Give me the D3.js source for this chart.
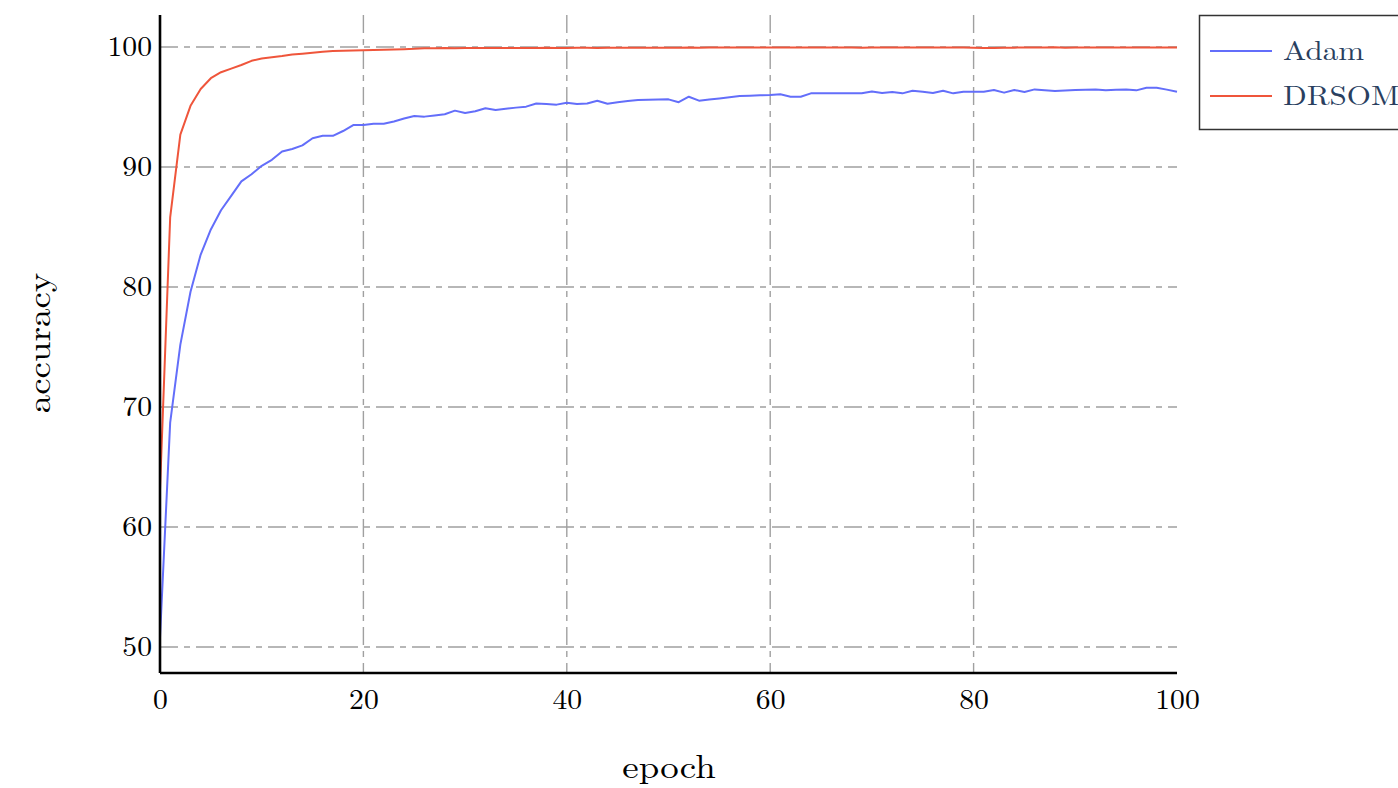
<!DOCTYPE html>
<html>
<head>
<meta charset="utf-8">
<script src="https://cdn.jsdelivr.net/npm/d3@7"></script>
<style>
  html, body { margin: 0; padding: 0; background: #fff; }
  svg { display: block; }
</style>
</head>
<body>
<svg id="chart" width="1398" height="788"></svg>
<script>
const epochs = d3.range(0, 101);
const adam = [50.8, 68.7, 75.2, 79.6, 82.7, 84.8, 86.4, 87.6, 88.8, 89.4,
  90.1, 90.6, 91.3, 91.5, 91.8, 92.4, 92.6, 92.6, 93.0, 93.5,
  93.5, 93.6, 93.6, 93.8, 94.05, 94.25, 94.2, 94.3, 94.4, 94.7,
  94.5, 94.65, 94.9, 94.75, 94.85, 94.95, 95.03, 95.3, 95.25, 95.2,
  95.36, 95.25, 95.3, 95.53, 95.28, 95.4, 95.5, 95.58, 95.6, 95.62,
  95.64, 95.4, 95.86, 95.53, 95.62, 95.72, 95.82, 95.92, 95.95, 95.98,
  96.0, 96.06, 95.86, 95.86, 96.14, 96.14, 96.14, 96.14, 96.14, 96.14,
  96.3, 96.17, 96.25, 96.14, 96.36, 96.28, 96.17, 96.36, 96.14, 96.28,
  96.28, 96.28, 96.42, 96.2, 96.42, 96.25, 96.47, 96.4, 96.33, 96.38,
  96.42, 96.45, 96.47, 96.39, 96.43, 96.47, 96.39, 96.61, 96.61, 96.45,
  96.28];
const drsom = [63.1, 85.8, 92.7, 95.1, 96.5, 97.4, 97.9, 98.2, 98.5, 98.85,
  99.05, 99.15, 99.25, 99.37, 99.45, 99.53, 99.6, 99.67, 99.7, 99.72,
  99.73, 99.75, 99.78, 99.8, 99.82, 99.85, 99.9, 99.9, 99.91, 99.9,
  99.92, 99.91, 99.92, 99.92, 99.93, 99.93, 99.92, 99.93, 99.94, 99.93,
  99.93, 99.94, 99.94, 99.93, 99.94, 99.95, 99.94, 99.95, 99.95, 99.95,
  99.95, 99.95, 99.96, 99.95, 99.96, 99.96, 99.96, 99.96, 99.96, 99.96,
  99.96, 99.96, 99.97, 99.96, 99.97, 99.97, 99.97, 99.97, 99.97, 99.95,
  99.96, 99.96, 99.96, 99.96, 99.96, 99.96, 99.96, 99.96, 99.96, 99.96,
  99.95, 99.92, 99.92, 99.94, 99.95, 99.96, 99.97, 99.97, 99.98, 99.95,
  99.96, 99.96, 99.96, 99.96, 99.97, 99.97, 99.97, 99.97, 99.97, 99.97,
  99.97];
const seriesNames = ["Adam", "DRSOM"];
const seriesColors = ["#636efa", "#ef553b"];
const xTicks = [0, 20, 40, 60, 80, 100];
const xGrid = [20, 40, 60, 80];
const yTicks = [50, 60, 70, 80, 90, 100];
const xDomain = [0, 100];
const yDomain = [47.83, 102.67];
const xTitle = "epoch";
const yTitle = "accuracy";

const svg = d3.select("#chart");
const L = 160, R = 1177, T = 15, B = 673;
const x = d3.scaleLinear().domain(xDomain).range([L, R]);
const y = d3.scaleLinear().domain(yDomain).range([B, T]);

const font = "'Latin Modern Roman', 'Liberation Serif', 'Times New Roman', serif";
const gridStyle = g => g.attr("stroke", "#a0a0a0").attr("stroke-width", 1.4).attr("stroke-dasharray", "18,6,6,6");

// grid
svg.append("g").selectAll("line").data(yTicks).join("line")
  .attr("x1", L).attr("x2", R).attr("y1", d => y(d)).attr("y2", d => y(d))
  .call(gridStyle);
svg.append("g").selectAll("line").data(xGrid).join("line")
  .attr("x1", d => x(d)).attr("x2", d => x(d)).attr("y1", T).attr("y2", B)
  .call(gridStyle);

// lines
const series = [adam, drsom];
const line = d3.line().x((d, i) => x(epochs[i])).y(d => y(d));
series.forEach((s, k) => {
  svg.append("path").datum(s)
    .attr("fill", "none").attr("stroke", seriesColors[k])
    .attr("stroke-width", 2).attr("stroke-linejoin", "round")
    .attr("d", line);
});

// axes
const sx = 1.06;
const tickSize = 28;
const xAxis = svg.append("g").attr("transform", `translate(0,${B})`)
  .call(d3.axisBottom(x).tickValues(xTicks).tickSize(0).tickPadding(16).tickFormat(d3.format("d")));
xAxis.select(".domain").attr("stroke", "#000").attr("stroke-width", 2.6).attr("d", `M${L},0H${R}`);
xAxis.selectAll("text").attr("font-family", font).attr("font-size", tickSize).attr("fill", "#000")
  .attr("dy", "0.71em").attr("transform", `scale(${sx},1)`);

const yAxis = svg.append("g").attr("transform", `translate(${L},0)`)
  .call(d3.axisLeft(y).tickValues(yTicks).tickSize(0).tickPadding(8).tickFormat(d3.format("d")));
yAxis.select(".domain").attr("stroke", "#000").attr("stroke-width", 2.6).attr("d", `M0,${T}V${B}`);
yAxis.selectAll("text").attr("font-family", font).attr("font-size", tickSize).attr("fill", "#000")
  .attr("x", -8 / sx).attr("transform", `scale(${sx},1)`);

// titles
svg.append("text").attr("x", 669).attr("y", 778).attr("text-anchor", "middle")
  .attr("font-family", font).attr("font-size", 33).attr("fill", "#000")
  .attr("transform", `translate(669,0) scale(1.12,1) translate(-669,0)`)
  .text(xTitle);
svg.append("text").attr("transform", "translate(50,343) rotate(-90) scale(1.12,1)")
  .attr("text-anchor", "middle")
  .attr("font-family", font).attr("font-size", 33).attr("fill", "#000")
  .text(yTitle);

// legend
const lg = svg.append("g");
lg.append("rect").attr("x", 1199.5).attr("y", 15.5).attr("width", 230).attr("height", 114)
  .attr("fill", "#fff").attr("stroke", "#333").attr("stroke-width", 1.5);
seriesNames.forEach((n, k) => {
  const yy = 51 + k * 45;
  lg.append("line").attr("x1", 1210).attr("x2", 1272).attr("y1", yy).attr("y2", yy)
    .attr("stroke", seriesColors[k]).attr("stroke-width", 2);
  lg.append("text").attr("x", 1283 / 1.15).attr("y", yy + 9)
    .attr("transform", "scale(1.15,1)")
    .attr("font-family", font).attr("font-size", 27).attr("fill", "#2a3f5f")
    .text(n);
});
</script>
</body>
</html>
